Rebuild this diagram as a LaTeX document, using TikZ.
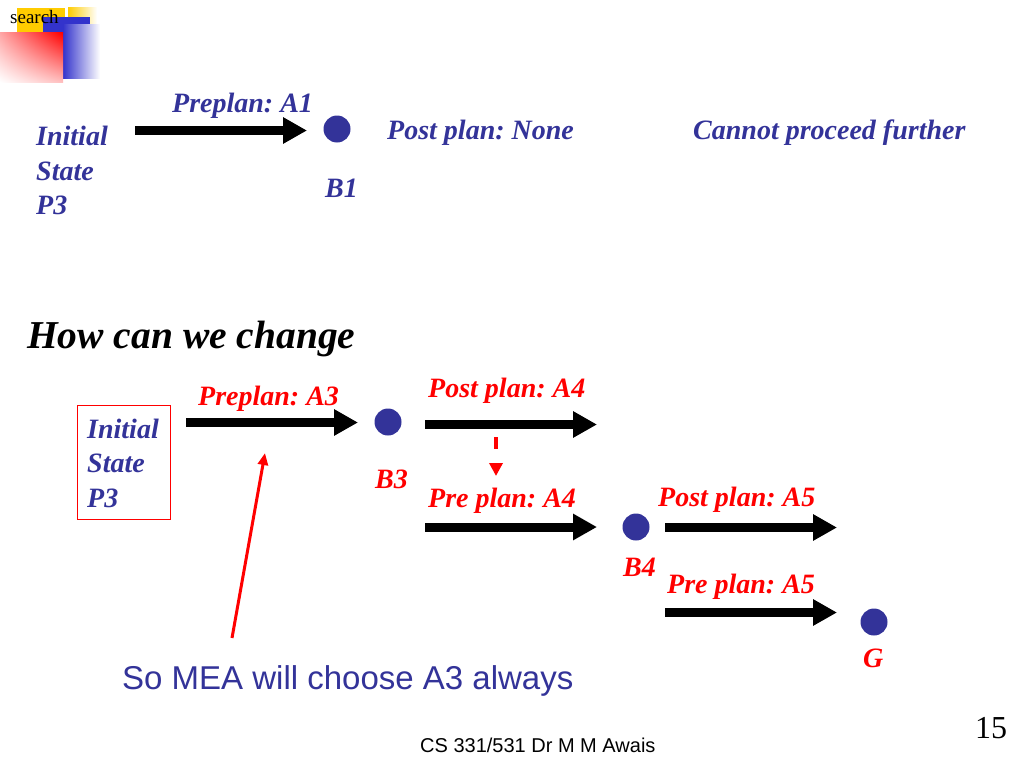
\documentclass[tikz,border=0pt]{standalone}
\usepackage{fontspec}
\setmainfont{Liberation Serif}
\setsansfont{Liberation Sans}
\usetikzlibrary{arrows.meta,shadings}
\definecolor{navy}{HTML}{333399}
\definecolor{rd}{HTML}{FF0000}
\definecolor{logoyellow}{HTML}{FFCC00}
\definecolor{logoblue}{HTML}{3333CC}
\frenchspacing
\begin{document}
\begin{tikzpicture}[x=1pt,y=-1pt,
  lbl/.style={anchor=base west, inner sep=0pt, font=\fontsize{28}{34}\selectfont\bfseries\itshape},
  navytxt/.style={lbl, text=navy},
  redtxt/.style={lbl, text=rd},
  dot/.style={circle, fill=navy, minimum size=27pt, inner sep=0pt},
  bigarrow/.style={line width=9pt, -{Triangle[length=24pt,width=25pt]}},
  dasharrow/.style={rd, line width=4pt, dash pattern=on 12pt off 40pt, -{Triangle[length=13pt,width=13pt]}},
  pointer/.style={rd, line width=3pt, -{Triangle[length=12pt,width=10pt]}},
]
\useasboundingbox[fill=white] (0,0) rectangle (1024,768);

% logo
\fill[logoyellow] (17,8) rectangle (65,33);
\shade[left color=logoyellow, right color=white] (68,8) rectangle (97,25);
\fill[logoblue] (43,17) rectangle (90,25);
\fill[logoblue] (43,25) rectangle (63,78);
\shade[left color=logoblue, right color=white] (63,25) rectangle (100,78);
\shade[upper right=rd, upper left={rd!35!white}, lower right={rd!25!white}, lower left=white] (0,33) rectangle (63,82);
\node[anchor=base west, inner sep=0pt, font=\fontsize{19}{19}\selectfont] (logo) at (10,24) {search};

% top row
\node[navytxt] (init1a) at (36,145) {Initial};
\node[navytxt] (init1b) at (36,180) {State};
\node[navytxt] (init1c) at (36,214) {P3};
\node[navytxt] (prea1) at (172,112) {Preplan: A1};
\coordinate (a1s) at (135,130.5);
\coordinate (a1e) at (307,130.5);
\draw[bigarrow] (a1s) -- (a1e);
\node[dot] (b1) at (337,129) {};
\node[navytxt] (b1l) at (325,197) {B1};
\node[navytxt] (postnone) at (387,139) {Post plan: None};
\node[navytxt] (cannot) at (693,139) {Cannot proceed further};

% question
\node[anchor=base west, inner sep=0pt, font=\fontsize{39.5}{41}\selectfont\bfseries\itshape] (how) at (27,348) {How can we change};

% second scenario
\node[draw=rd, line width=1.2pt, minimum width=93pt, minimum height=114pt, inner sep=0pt, anchor=north west] (box) at (77,405) {};
\node[navytxt] (init2a) at (87,438) {Initial};
\node[navytxt] (init2b) at (87,472.5) {State};
\node[navytxt] (init2c) at (87,507) {P3};

\node[redtxt] (prea3) at (198,405) {Preplan: A3};
\coordinate (a3s) at (186,422.5);
\coordinate (a3e) at (358,422.5);
\draw[bigarrow] (a3s) -- (a3e);
\node[dot] (b3) at (388,422) {};
\node[redtxt] (b3l) at (375,488) {B3};

\node[redtxt] (posta4) at (428,397) {Post plan: A4};
\coordinate (p4s) at (425,424.5);
\coordinate (p4e) at (597,424.5);
\draw[bigarrow] (p4s) -- (p4e);

\coordinate (ds) at (496,437);
\coordinate (de) at (496,476);
\draw[dasharrow] (ds) -- (de);

\node[redtxt] (prea4) at (428,507) {Pre plan: A4};
\coordinate (r4s) at (425,527);
\coordinate (r4e) at (597,527);
\draw[bigarrow] (r4s) -- (r4e);
\node[dot] (b4) at (636,527) {};
\node[redtxt] (b4l) at (623,576) {B4};

\node[redtxt] (posta5) at (658,506) {Post plan: A5};
\coordinate (p5s) at (665,527.5);
\coordinate (p5e) at (837,527.5);
\draw[bigarrow] (p5s) -- (p5e);

\node[redtxt] (prea5) at (667,593) {Pre plan: A5};
\coordinate (r5s) at (665,612.5);
\coordinate (r5e) at (837,612.5);
\draw[bigarrow] (r5s) -- (r5e);
\node[dot] (g) at (874,622) {};
\node[redtxt] (gl) at (863,667) {G};

\coordinate (ps) at (232,638);
\coordinate (pe) at (265,453);
\draw[pointer] (ps) -- (pe);

\node[anchor=base west, inner sep=0pt, font=\sffamily\fontsize{33}{36}\selectfont, text=navy] (mea) at (122,689) {So MEA will choose A3 always};

% footer
\node[anchor=base west, inner sep=0pt, font=\sffamily\fontsize{20}{22}\selectfont] (footer) at (420,752) {CS 331/531 Dr M M Awais};
\node[anchor=base west, inner sep=0pt, font=\fontsize{32}{34}\selectfont] (pnum) at (975,738) {15};
\end{tikzpicture}
\end{document}
